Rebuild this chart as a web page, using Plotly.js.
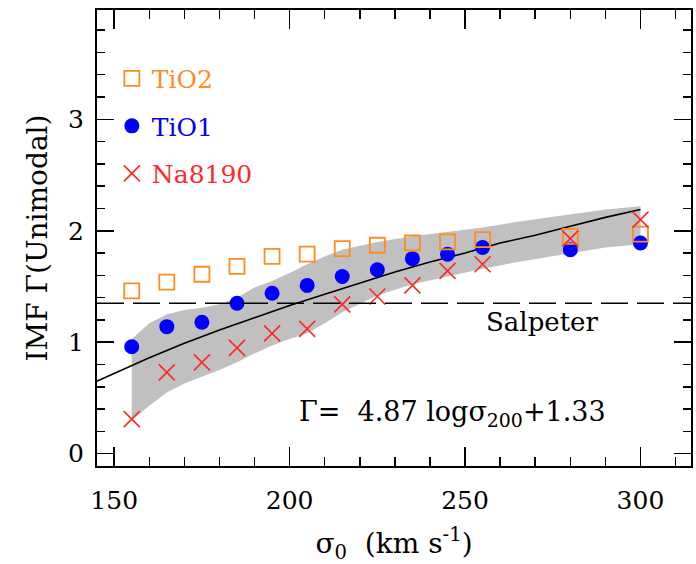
<!DOCTYPE html>
<html>
<head>
<meta charset="utf-8">
<script src="https://cdn.plot.ly/plotly-3.0.1.min.js"></script>
<style>html,body{margin:0;padding:0;background:#fff;}#chart{width:696px;height:564px;}</style>
</head>
<body>
<div id="chart"></div>
<script>
// ---- data ----
const sigma = [155, 165, 175, 185, 195, 205, 215, 225, 235, 245, 255, 280, 300];
const tio2 = [1.46, 1.54, 1.61, 1.68, 1.77, 1.79, 1.84, 1.87, 1.89, 1.90, 1.92, 1.95, 1.97];
const tio1 = [0.96, 1.14, 1.18, 1.35, 1.44, 1.51, 1.59, 1.65, 1.75, 1.79, 1.85, 1.83, 1.89];
const na8190 = [0.31, 0.73, 0.82, 0.95, 1.08, 1.12, 1.34, 1.41, 1.51, 1.64, 1.70, 1.93, 2.10];

const bandX = [155, 160, 165, 170, 175, 180, 185, 190, 195, 200, 205, 210, 215, 225, 235, 245, 255, 265, 280, 290, 300];
const bandUpper = [1.03, 1.17, 1.25, 1.29, 1.31, 1.34, 1.40, 1.49, 1.55, 1.62, 1.70, 1.77, 1.83, 1.90, 1.95, 1.99, 2.03, 2.08, 2.15, 2.19, 2.22];
const bandLower = [0.30, 0.43, 0.55, 0.63, 0.69, 0.75, 0.82, 0.90, 0.97, 1.03, 1.08, 1.17, 1.27, 1.42, 1.52, 1.59, 1.66, 1.72, 1.80, 1.85, 1.88];

const fitX = [145, 150, 160, 170, 180, 190, 200, 210, 220, 230, 240, 250, 260, 270, 280, 290, 300];
const fitY = [0.65, 0.72, 0.86, 0.99, 1.11, 1.22, 1.33, 1.43, 1.53, 1.63, 1.72, 1.80, 1.89, 1.96, 2.04, 2.12, 2.19];

const salpeter = 1.35;
const xTickVals = [150, 200, 250, 300];
const yTickVals = [0, 1, 2, 3];
const seriesNames = ['TiO2', 'TiO1', 'Na8190'];

// ---- styling ----
const FONT = 'DejaVu Serif';
const cOrange = 'rgb(255,140,30)';
const cBlue = 'rgb(0,0,255)';
const cRed = 'rgb(255,40,40)';

const traces = [
  {
    x: bandX.concat(bandX.slice().reverse()),
    y: bandUpper.concat(bandLower.slice().reverse()),
    type: 'scatter', mode: 'lines', fill: 'toself',
    fillcolor: 'rgb(192,192,192)', line: {width: 0}, hoverinfo: 'skip', showlegend: false
  },
  {
    x: fitX, y: fitY, type: 'scatter', mode: 'lines',
    line: {color: 'black', width: 1.6}, showlegend: false
  },
  {
    x: sigma, y: tio1, type: 'scatter', mode: 'markers',
    name: '<span style="color:' + cBlue + '">' + seriesNames[1] + '</span>',
    legendrank: 2, legendgroup: 'b',
    marker: {symbol: 'circle', size: 15, color: cBlue}
  },
  {
    x: sigma, y: tio2, type: 'scatter', mode: 'markers',
    name: '<span style="color:' + cOrange + '">' + seriesNames[0] + '</span>',
    legendrank: 1, legendgroup: 'a',
    marker: {symbol: 'square-open', size: 15, color: cOrange, line: {width: 1.8, color: cOrange}}
  },
  {
    x: sigma, y: na8190, type: 'scatter', mode: 'markers',
    name: '<span style="color:' + cRed + '">' + seriesNames[2] + '</span>',
    legendrank: 3, legendgroup: 'c',
    marker: {symbol: 'x-thin-open', size: 16, color: cRed, line: {width: 1.6, color: cRed}}
  }
];

const axisCommon = {
  showgrid: false, zeroline: false, showline: true, linecolor: 'black', linewidth: 2,
  mirror: 'allticks', ticks: 'inside', tickcolor: 'black', tickwidth: 1.5,
  tickfont: {family: FONT, size: 25, color: 'black'}
};

const layout = {
  width: 696, height: 564,
  margin: {l: 97, r: 5, t: 10, b: 98},
  paper_bgcolor: 'white', plot_bgcolor: 'white',
  font: {family: FONT, color: 'black'},
  xaxis: Object.assign({}, axisCommon, {
    range: [145.1, 314.4], tickvals: xTickVals, ticklen: 19, ticklabelstandoff: 11,
    minor: {dtick: 10, tick0: 150, ticks: 'inside', ticklen: 9, tickwidth: 1.5, tickcolor: 'black'},
    title: {text: 'σ<sub>0</sub>  (km s<sup>-1</sup>)', font: {family: FONT, size: 28, color: 'black'}, standoff: 20}
  }),
  yaxis: Object.assign({}, axisCommon, {
    range: [-0.11, 3.98], tickvals: yTickVals, ticklen: 17, ticklabelstandoff: 6,
    minor: {dtick: 0.2, tick0: 0, ticks: 'inside', ticklen: 8, tickwidth: 1.5, tickcolor: 'black'},
    title: {text: 'IMF Γ(Unimodal)', font: {family: FONT, size: 28, color: 'black'}, standoff: 12}
  }),
  shapes: [{
    type: 'line', xref: 'paper', x0: 0, x1: 1, yref: 'y', y0: salpeter, y1: salpeter,
    line: {color: 'black', width: 1.6, dash: '27px,9px'}
  }],
  annotations: [
    {text: 'Salpeter', xref: 'x', yref: 'y', x: 272, y: 1.18, showarrow: false,
     font: {family: FONT, size: 26, color: 'black'}},
    {text: 'Γ=  4.87 logσ<sub>200</sub>+1.33', xref: 'x', yref: 'y', x: 202, y: 0.36,
     xanchor: 'left', showarrow: false, font: {family: FONT, size: 27, color: 'black'}}
  ],
  showlegend: true,
  legend: {
    x: 0.025, y: 0.9, xanchor: 'left', yanchor: 'top',
    bgcolor: 'rgba(0,0,0,0)', borderwidth: 0,
    font: {family: FONT, size: 25}, tracegroupgap: 12, itemsizing: 'trace'
  }
};

Plotly.newPlot('chart', traces, layout, {displayModeBar: false, staticPlot: true});
</script>
</body>
</html>
